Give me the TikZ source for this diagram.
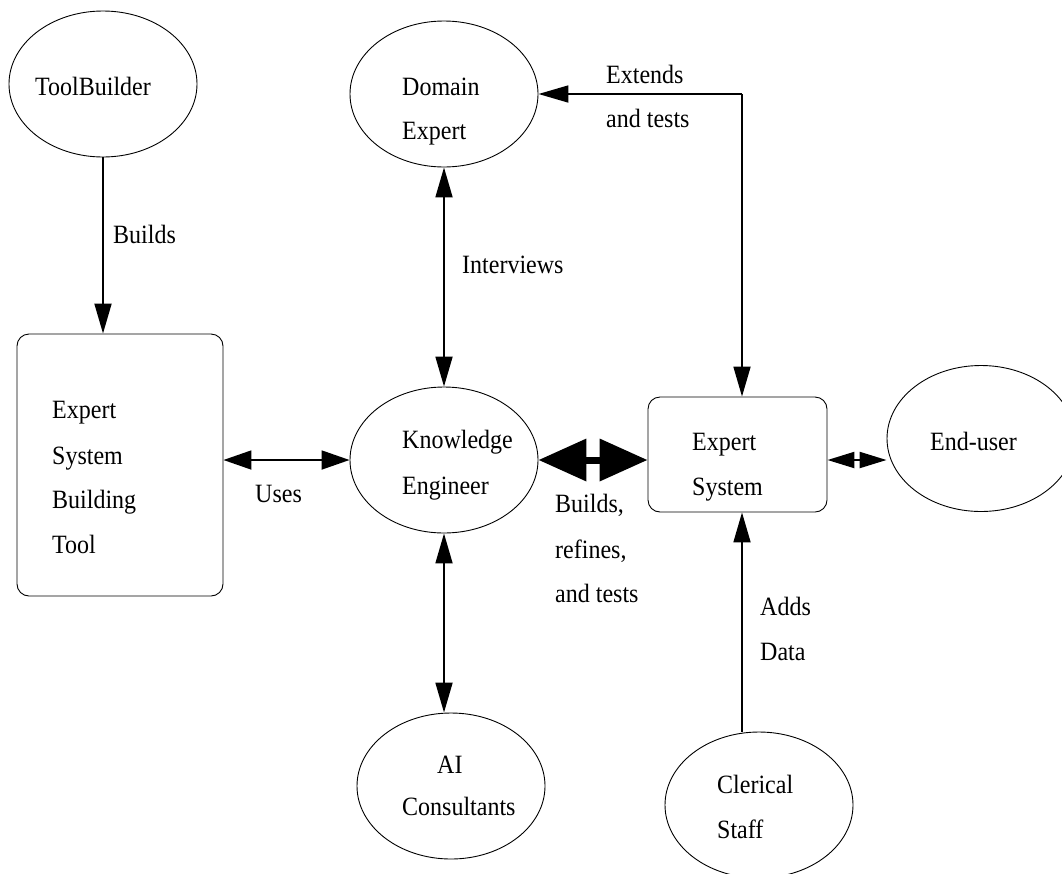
\documentclass[tikz,border=0pt]{standalone}
\usepackage{fontspec}
\usepackage{graphicx}
\setmainfont{Liberation Serif}
\usetikzlibrary{shapes.geometric,arrows.meta}
\newcommand{\tallt}[1]{\scalebox{1}[1.1]{#1}}
\begin{document}
\begin{tikzpicture}[x=1pt,y=-1pt,
  ell/.style={draw, ellipse, minimum width=188pt, minimum height=146pt, inner sep=0pt, line width=0.9pt},
  rbox/.style={draw, rectangle, rounded corners=12pt, inner sep=0pt, line width=0.9pt},
  txt/.style={anchor=base west, inner sep=0pt, font=\fontsize{24}{24}\selectfont},
  conn/.style={line width=1.8pt}
]
\useasboundingbox (0,0) rectangle (1062,873);

% shapes
\node[ell] (tb) at (103,84) {};
\node[ell] (de) at (444,94) {};
\node[ell] (ke) at (444,460) {};
\node[ell] (ai) at (451,786) {};
\node[ell] (cs) at (759,805) {};
\node[ell] (eu) at (981,438.5) {};
\node[rbox, minimum width=206pt, minimum height=262pt] (esbt) at (120,465) {};
\node[rbox, minimum width=179pt, minimum height=115pt] (es) at (737.5,454.5) {};

% node texts
\node[txt] (tbt) at (35,95) {\tallt{ToolBuilder}};
\node[txt] (det1) at (402,95) {\tallt{Domain}};
\node[txt] (det2) at (402,139) {\tallt{Expert}};
\node[txt] (esbt1) at (52,418) {\tallt{Expert}};
\node[txt] (esbt2) at (52,464) {\tallt{System}};
\node[txt] (esbt3) at (52,508) {\tallt{Building}};
\node[txt] (esbt4) at (52,553) {\tallt{Tool}};
\node[txt] (ket1) at (402,448) {\tallt{Knowledge}};
\node[txt] (ket2) at (402,494) {\tallt{Engineer}};
\node[txt] (est1) at (692,450) {\tallt{Expert}};
\node[txt] (est2) at (692,495) {\tallt{System}};
\node[txt] (eut) at (930,450) {\tallt{End-user}};
\node[txt] (ait1) at (437,773) {\tallt{AI}};
\node[txt] (ait2) at (402,815) {\tallt{Consultants}};
\node[txt] (cst1) at (717,793) {\tallt{Clerical}};
\node[txt] (cst2) at (717,838) {\tallt{Staff}};

% connectors
\coordinate (corner) at (742,94);
\draw[conn, -{Triangle[length=30pt,width=17pt]}] (tb.south) -- (tb.south |- esbt.north);
\draw[conn, {Triangle[length=30pt,width=17pt]}-{Triangle[length=30pt,width=17pt]}] (de.south) -- (ke.north);
\draw[conn, {Triangle[length=30pt,width=17pt]}-{Triangle[length=30pt,width=17pt]}] (ke.south) -- (ke.south |- ai.north);
\draw[conn, {Triangle[length=28pt,width=19pt]}-{Triangle[length=28pt,width=19pt]}] (ke.west -| esbt.east) -- (ke.west);
\draw[line width=7pt, {Triangle[length=48pt,width=41pt]}-{Triangle[length=48pt,width=41pt]}] (ke.east) -- (ke.east -| es.west);
\coordinate (eua) at ([yshift=-5.5pt]es.east);
\draw[line width=2.2pt, {Triangle[length=27pt,width=16pt]}-{Triangle[length=27pt,width=16pt]}] (eua) -- (eua -| eu.west);
\draw[conn, -{Triangle[length=30pt,width=17pt]}] (corner) -- (de.east);
\draw[conn, -{Triangle[length=30pt,width=17pt]}] (corner) -- (corner |- es.north);
\draw[conn, -{Triangle[length=30pt,width=17pt]}] (corner |- cs.north) -- (corner |- es.south);

% labels
\node[txt] (lb) at (113,243) {\tallt{Builds}};
\node[txt] (li) at (462,273) {\tallt{Interviews}};
\node[txt] (le1) at (606,83) {\tallt{Extends}};
\node[txt] (le2) at (606,127) {\tallt{and tests}};
\node[txt] (lu) at (255,502) {\tallt{Uses}};
\node[txt] (lbr1) at (555,512) {\tallt{Builds,}};
\node[txt] (lbr2) at (555,558) {\tallt{refines,}};
\node[txt] (lbr3) at (555,602) {\tallt{and tests}};
\node[txt] (la1) at (760,615) {\tallt{Adds}};
\node[txt] (la2) at (760,660) {\tallt{Data}};
\end{tikzpicture}
\end{document}
